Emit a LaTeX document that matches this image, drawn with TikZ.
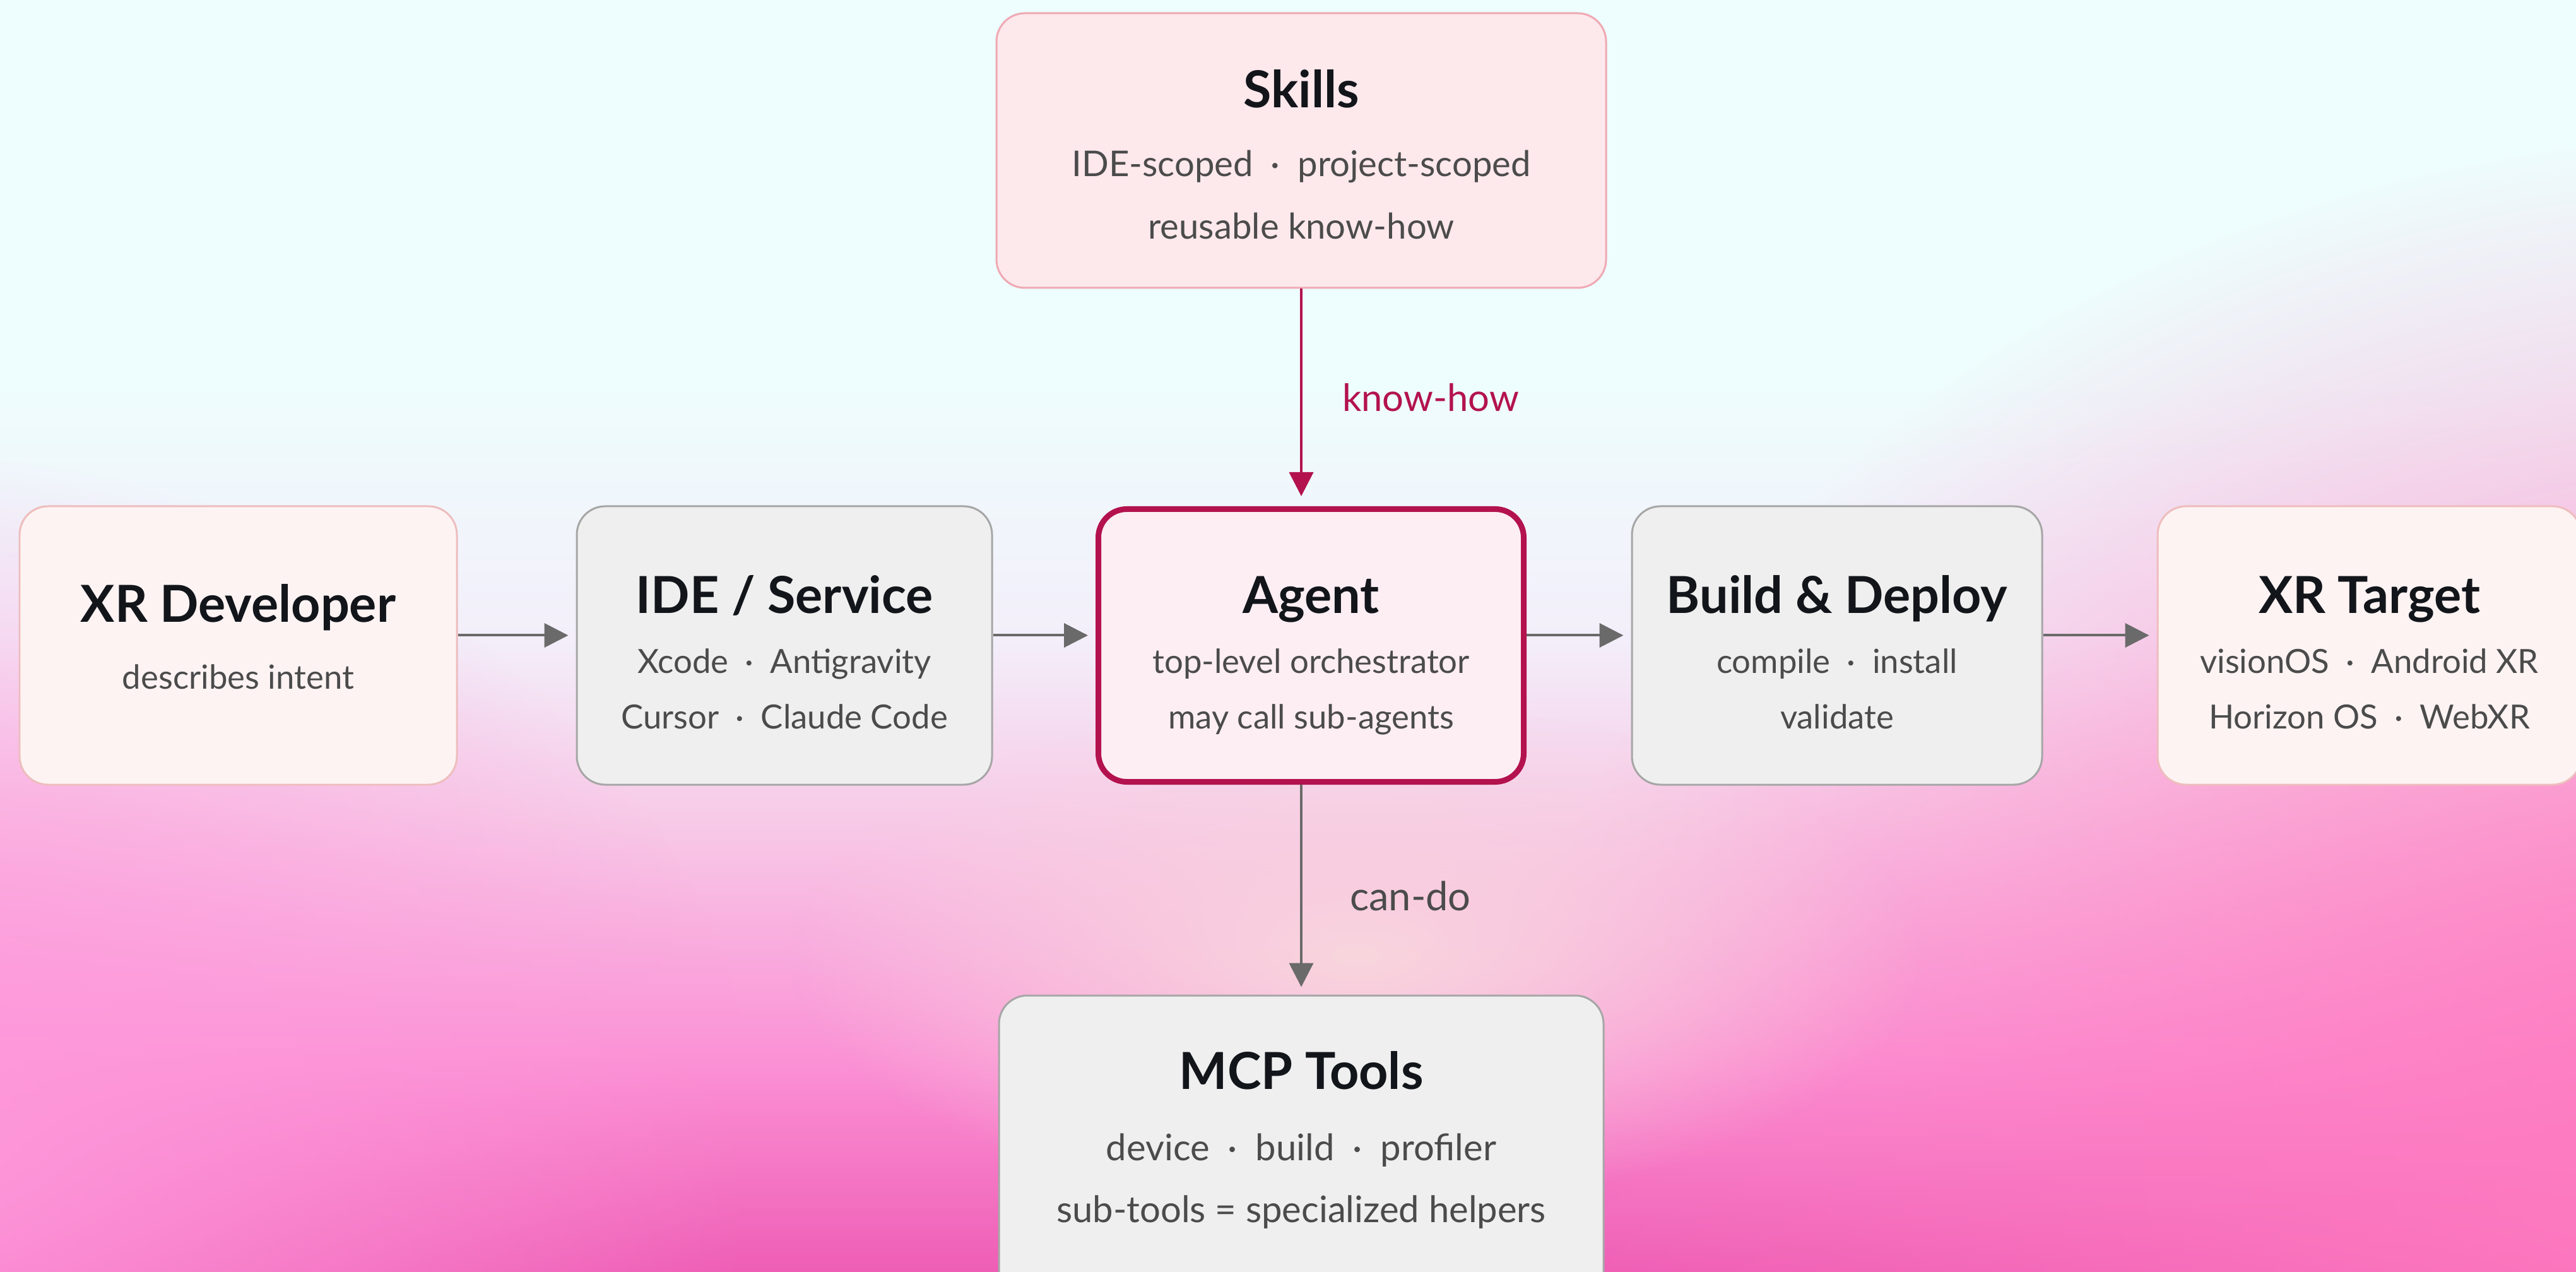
\documentclass[tikz,border=0pt]{standalone}
\usepackage{fontspec}
\setmainfont{Lato}
\usepackage{tikz}
\usetikzlibrary{arrows.meta,fadings}

\definecolor{bgA}{HTML}{EEFDFD}
\definecolor{bgB}{HTML}{F3EFFA}
\definecolor{bgC}{HTML}{F7CBE8}
\definecolor{bgD}{HTML}{FB8FD4}
\definecolor{bgE}{HTML}{EE5EB5}
\definecolor{blobright}{HTML}{FF7CC0}
\definecolor{blobleft}{HTML}{FF9ADC}
\definecolor{blobmid}{HTML}{F8D6DE}
\definecolor{titleink}{HTML}{12151A}
\definecolor{subink}{HTML}{4B4B4B}
\definecolor{crimson}{HTML}{B3124E}
\definecolor{arrgray}{HTML}{6A6A6A}
\definecolor{skillfill}{HTML}{FDE8EC}
\definecolor{skillline}{HTML}{EFA9B3}
\definecolor{devfill}{HTML}{FDF3F3}
\definecolor{devline}{HTML}{EEBDBD}
\definecolor{grayfill}{HTML}{EFEFEF}
\definecolor{grayline}{HTML}{A6A6A6}
\definecolor{agentfill}{HTML}{FDEEF3}

\pgfdeclareverticalshading{bgfade}{100bp}{color(0bp)=(bgE); color(25bp)=(bgE); color(33bp)=(bgD); color(43bp)=(bgC); color(50bp)=(bgB); color(60bp)=(bgA); color(75bp)=(bgA); color(100bp)=(bgA)}
\tikzfading[name=softblob, inner color=transparent!0, outer color=transparent!100]

\newcommand{\sepdot}{\hspace{0.5em}·\hspace{0.5em}}
\newcommand{\boxtitle}[1]{{\fontsize{23}{24}\selectfont\bfseries\color{titleink}\rule{0pt}{23pt}#1}}

\begin{document}
\begin{tikzpicture}[
  card/.style={draw, rounded corners=0.45cm, line width=0.03cm, align=center, inner sep=0pt, text depth=0pt, font=\fontsize{15}{25}\selectfont, text=subink},
  skillcard/.style={card, font=\fontsize{16}{28}\selectfont, fill=skillfill, draw=skillline},
  devcard/.style={card, fill=devfill, draw=devline},
  graycard/.style={card, fill=grayfill, draw=grayline},
  agentcard/.style={card, fill=agentfill, draw=crimson, line width=0.09cm},
  arr/.style={-{Triangle[length=0.38cm,width=0.38cm]}, line width=0.04cm, draw=arrgray, shorten >=0.12cm},
  karr/.style={arr, draw=crimson, shorten >=0.16cm},
  lbl/.style={font=\fontsize{17}{20}\selectfont, anchor=west, inner sep=0pt}
]
% background
\useasboundingbox (0,0) rectangle (40.82,20.14);
\shade[shading=bgfade] (0,0) rectangle (40.82,20.14);
\fill[blobleft, path fading=softblob] (-2,2) ellipse (14 and 11);
\fill[blobright, path fading=softblob] (44,2) ellipse (20 and 16);
\fill[blobmid, path fading=softblob] (21.5,5) ellipse (9 and 4);

% cards
\node[skillcard, minimum width=9.66cm, minimum height=4.35cm, text depth=0.09cm] (skills) at (20.62,17.755)
  {\boxtitle{Skills}\\[3pt]IDE-scoped\sepdot project-scoped\\reusable know-how};
\node[devcard, minimum width=6.93cm, minimum height=4.41cm, text depth=0.49cm] (dev) at (3.775,9.915)
  {\boxtitle{XR Developer}\\[5pt]describes intent};
\node[graycard, minimum width=6.58cm, minimum height=4.41cm] (ide) at (12.43,9.915)
  {\boxtitle{IDE / Service}\\[2pt]Xcode\sepdot Antigravity\\Cursor\sepdot Claude Code};
\node[agentcard, minimum width=6.74cm, minimum height=4.32cm] (agent) at (20.775,9.915)
  {\boxtitle{Agent}\\[2pt]top-level orchestrator\\may call sub-agents};
\node[graycard, minimum width=6.50cm, minimum height=4.41cm] (build) at (29.11,9.915)
  {\boxtitle{Build \& Deploy}\\[2pt]compile\sepdot install\\validate};
\node[devcard, minimum width=6.71cm, minimum height=4.41cm] (target) at (37.545,9.915)
  {\boxtitle{XR Target}\\[2pt]visionOS\sepdot Android XR\\Horizon OS\sepdot WebXR};
\node[graycard, font=\fontsize{16.5}{28}\selectfont, minimum width=9.58cm, minimum height=4.83cm, text depth=0.55cm] (mcp) at (20.62,1.955)
  {\boxtitle{MCP Tools}\\[4pt]device\sepdot build\sepdot profiler\\sub-tools = specialized helpers};

% connectors
\draw[arr] ([yshift=0.16cm]dev.east) -- ([yshift=0.16cm]ide.west);
\draw[arr] ([yshift=0.16cm]ide.east) -- ([yshift=0.16cm]agent.west);
\draw[arr] ([yshift=0.16cm]agent.east) -- ([yshift=0.16cm]build.west);
\draw[arr] ([yshift=0.16cm]build.east) -- ([yshift=0.16cm]target.west);
\draw[karr] (skills.south) -- node[lbl, text=crimson, xshift=0.63cm] {know-how} (skills.south |- agent.north);
\draw[arr] (mcp.north |- agent.south) -- node[lbl, font=\fontsize{18}{20}\selectfont, text=subink, xshift=0.75cm, yshift=-0.1cm] {can-do} (mcp.north);
\end{tikzpicture}
\end{document}
